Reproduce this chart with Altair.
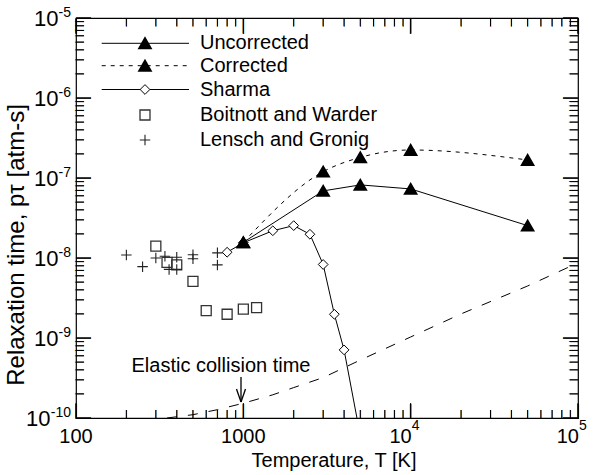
import altair as alt
import pandas as pd

W, H = 502, 400
FONT = "Liberation Sans"

# ---------------- data ----------------
unc_T = [1000, 3000, 5000, 10000, 50000]
unc_v = [1.57e-8, 6.9e-8, 8.2e-8, 7.3e-8, 2.54e-8]

cor_T = [1000, 3000, 5000, 10000, 50000]
cor_v = [1.57e-8, 1.2e-7, 1.81e-7, 2.24e-7, 1.68e-7]

sharma_T = [800, 1000, 1500, 2000, 2500, 3000, 3500, 4000, 5000]
sharma_v = [1.18e-8, 1.55e-8, 2.19e-8, 2.54e-8, 1.98e-8, 8.3e-9, 1.98e-9, 7.1e-10, 6e-11]

bw_T = [300, 350, 400, 500, 600, 800, 1000, 1200]
bw_v = [1.41e-8, 8.8e-9, 8.2e-9, 5.1e-9, 2.2e-9, 1.98e-9, 2.3e-9, 2.4e-9]

lg_T = [200, 250, 300, 340, 360, 400, 400, 500, 500, 700, 700]
lg_v = [1.09e-8, 7.8e-9, 1.0e-8, 1.05e-8, 7.2e-9, 1.02e-8, 7.2e-9, 1.1e-8, 9.8e-9, 1.16e-8, 8.2e-9]

el_T = [350, 500, 700, 1000, 1500, 2000, 3000, 5000, 10000, 20000, 50000, 100000]
el_v = [1.0e-10, 1.1e-10, 1.27e-10, 1.53e-10, 1.95e-10, 2.4e-10, 3.2e-10, 5.3e-10,
        1.03e-9, 2.0e-9, 4.47e-9, 8.7e-9]

legend_labels = ["Uncorrected", "Corrected", "Sharma", "Boitnott and Warder", "Lensch and Gronig"]
annotation = "Elastic collision time"
x_title = "Temperature, T [K]"
y_title = "Relaxation time, p\u03c4 [atm-s]"

x_domain = [100, 100000]
y_domain = [1e-10, 1e-5]
x_major = [100, 1000, 10000, 100000]
x_minor = [m * 10 ** e for e in (2, 3, 4) for m in range(2, 10)]
y_major = [1e-10, 1e-9, 1e-8, 1e-7, 1e-6, 1e-5]
y_minor = [m * 10.0 ** e for e in (-10, -9, -8, -7, -6) for m in range(2, 10)]

x_plain_T = [100, 1000]
x_plain_lab = ["100", "1000"]
x_pow_T = [10000, 100000]
x_pow_exp = ["4", "5"]
y_pow_v = [1e-10, 1e-9, 1e-8, 1e-7, 1e-6, 1e-5]
y_pow_exp = ["-10", "-9", "-8", "-7", "-6", "-5"]

# ---------------- helpers ----------------
xs = alt.Scale(type="log", domain=x_domain, nice=False)
ys = alt.Scale(type="log", domain=y_domain, nice=False)


def X(f="T"):
    return alt.X(f"{f}:Q", scale=xs, axis=None)


def Y(f="v"):
    return alt.Y(f"{f}:Q", scale=ys, axis=None)


def df(T, v):
    return pd.DataFrame({"T": T, "v": v})


PLUS = "M-1,0L1,0M0,-1L0,1"
marker_style = {
    "tri": dict(shape="triangle-up", filled=True, fill="black", stroke="black", size=130, opacity=1),
    "dia": dict(shape="diamond", filled=True, fill="white", stroke="black", strokeWidth=1, size=95, opacity=1),
    "sq": dict(shape="square", filled=False, stroke="#333333", strokeWidth=1.3, size=100, opacity=1),
    "plus": dict(shape=PLUS, filled=False, stroke="#222222", strokeWidth=1.1, size=110, opacity=1),
}
DOT = [4, 5]
DASH = [10, 11]

layers = []

# ---------------- inward ticks on all four sides: short line segments through the log scales ----------------
px_per_dec_x = W / 3.0
px_per_dec_y = H / 5.0
rows = []
k = 0
for vals, ln in ((x_major, 15), (x_minor, 8)):
    fy = 10 ** (ln / px_per_dec_y)
    for t in vals:
        rows += [(k, t, y_domain[0]), (k, t, y_domain[0] * fy)]
        k += 1
        rows += [(k, t, y_domain[1]), (k, t, y_domain[1] / fy)]
        k += 1
for vals, ln in ((y_major, 15), (y_minor, 8)):
    fx = 10 ** (ln / px_per_dec_x)
    for v in vals:
        rows += [(k, x_domain[0], v), (k, x_domain[0] * fx, v)]
        k += 1
        rows += [(k, x_domain[1], v), (k, x_domain[1] / fx, v)]
        k += 1
ticks = pd.DataFrame(rows, columns=["id", "T", "v"])
layers.append(alt.Chart(ticks).mark_line(color="black", strokeWidth=1)
              .encode(x=X(), y=Y(), detail="id:N"))

# same ticks again as bar glyphs (text marks), centred half a tick length inside the frame
for vals, ln, fs in ((x_major, 15, 16), (x_minor, 8, 8.5)):
    d = pd.DataFrame({"T": vals, "g": ["|"] * len(vals)})
    for ypix in (H - ln / 2.0, ln / 2.0):
        layers.append(alt.Chart(d).mark_text(font=FONT, fontSize=fs, align="center", baseline="middle",
                                             color="black")
                      .encode(x=X(), y=alt.value(ypix), text="g:N"))
for vals, ln, fs in ((y_major, 15, 16), (y_minor, 8, 8.5)):
    d = pd.DataFrame({"v": vals, "g": ["|"] * len(vals)})
    for xpix in (ln / 2.0, W - ln / 2.0):
        layers.append(alt.Chart(d).mark_text(font=FONT, fontSize=fs, align="center", baseline="middle",
                                             angle=90, color="black")
                      .encode(y=Y(), x=alt.value(xpix), text="g:N"))

# elastic collision time
layers.append(alt.Chart(df(el_T, el_v)).mark_line(color="black", strokeWidth=1, strokeDash=DASH, clip=True)
              .encode(x=X(), y=Y()))
# Sharma
d_sh = df(sharma_T, sharma_v)
layers.append(alt.Chart(d_sh).mark_line(color="black", strokeWidth=1, clip=True).encode(x=X(), y=Y()))
layers.append(alt.Chart(d_sh).mark_point(clip=True, **marker_style["dia"]).encode(x=X(), y=Y()))
# Uncorrected / Corrected
d_unc = df(unc_T, unc_v)
d_cor = df(cor_T, cor_v)
layers.append(alt.Chart(d_unc).mark_line(color="black", strokeWidth=1, clip=True).encode(x=X(), y=Y()))
layers.append(alt.Chart(d_cor).mark_line(color="black", strokeWidth=1, strokeDash=DOT,
                                         interpolate="monotone", clip=True).encode(x=X(), y=Y()))
layers.append(alt.Chart(d_unc).mark_point(clip=True, **marker_style["tri"]).encode(x=X(), y=Y()))
layers.append(alt.Chart(d_cor).mark_point(clip=True, **marker_style["tri"]).encode(x=X(), y=Y()))
# Boitnott and Warder, Lensch and Gronig
layers.append(alt.Chart(df(bw_T, bw_v)).mark_point(clip=True, **marker_style["sq"]).encode(x=X(), y=Y()))
layers.append(alt.Chart(df(lg_T, lg_v)).mark_point(clip=True, **marker_style["plus"]).encode(x=X(), y=Y()))

# ---------------- tick labels ----------------
layers.append(alt.Chart(pd.DataFrame({"T": x_plain_T, "lab": x_plain_lab}))
              .mark_text(font=FONT, fontSize=20, align="center", baseline="alphabetic", color="black")
              .encode(x=X(), y=alt.value(H + 25), text="lab:N"))
d_xp = pd.DataFrame({"T": x_pow_T, "e": x_pow_exp, "b": ["10"] * len(x_pow_T)})
layers.append(alt.Chart(d_xp).mark_text(font=FONT, fontSize=20, align="right", baseline="alphabetic",
                                        color="black", dx=1)
              .encode(x=X(), y=alt.value(H + 25), text="b:N"))
layers.append(alt.Chart(d_xp).mark_text(font=FONT, fontSize=14, align="left", baseline="alphabetic",
                                        color="black", dx=1)
              .encode(x=X(), y=alt.value(H + 12), text="e:N"))

d_yp = pd.DataFrame({"v": y_pow_v, "e": y_pow_exp, "b": ["10"] * len(y_pow_v)})
d_yp["w"] = d_yp["e"].str.len()
for n, off in ((2, 12.5), (3, 20.5)):
    sub = d_yp[d_yp["w"] == n]
    layers.append(alt.Chart(sub).mark_text(font=FONT, fontSize=14, align="right", baseline="alphabetic",
                                           color="black", dy=-1)
                  .encode(x=alt.value(-5), y=Y(), text="e:N"))
    layers.append(alt.Chart(sub).mark_text(font=FONT, fontSize=22, align="right", baseline="alphabetic",
                                           color="black", dy=8)
                  .encode(x=alt.value(-5 - off), y=Y(), text="b:N"))

# ---------------- axis titles ----------------
layers.append(alt.Chart(pd.DataFrame({"t": [x_title]}))
              .mark_text(font=FONT, fontSize=20, align="center", baseline="alphabetic", color="black")
              .encode(x=alt.value(258), y=alt.value(449), text="t:N"))
layers.append(alt.Chart(pd.DataFrame({"t": [y_title]}))
              .mark_text(font=FONT, fontSize=24, align="center", baseline="alphabetic", angle=270,
                         color="black")
              .encode(x=alt.value(-52.5), y=alt.value(227), text="t:N"))

# ---------------- annotation ----------------
one = pd.DataFrame({"a": [annotation]})
layers.append(alt.Chart(one).mark_text(font=FONT, fontSize=20, align="center", baseline="alphabetic",
                                       color="black")
              .encode(x=alt.value(145), y=alt.value(353.5), text="a:N"))
for (x1, y1, x2, y2) in ((165, 359, 165, 384), (160.5, 371, 165, 384), (169.5, 371, 165, 384)):
    layers.append(alt.Chart(one).mark_rule(color="black", strokeWidth=1.3)
                  .encode(x=alt.value(x1), y=alt.value(y1), x2=alt.value(x2), y2=alt.value(y2)))

# ---------------- legend ----------------
row_y = [25.3, 47.7, 71.5, 97, 122]
line_x0, line_x1, mark_x, text_x = 25.7, 113, 69, 124
leg_spec = [("solid", "tri"), ("dot", "tri"), ("solid", "dia"), (None, "sq"), (None, "plus")]
for lab, yy, (ls, mk) in zip(legend_labels, row_y, leg_spec):
    d = pd.DataFrame({"lab": [lab]})
    if ls is not None:
        kw = dict(color="black", strokeWidth=1)
        if ls == "dot":
            kw["strokeDash"] = DOT
        layers.append(alt.Chart(d).mark_rule(**kw)
                      .encode(x=alt.value(line_x0), x2=alt.value(line_x1), y=alt.value(yy)))
    layers.append(alt.Chart(d).mark_point(**marker_style[mk])
                  .encode(x=alt.value(mark_x), y=alt.value(yy)))
    layers.append(alt.Chart(d).mark_text(font=FONT, fontSize=20, align="left", baseline="alphabetic",
                                         color="black")
                  .encode(x=alt.value(text_x), y=alt.value(yy + 6), text="lab:N"))

chart = (
    alt.layer(*layers)
    .properties(width=W, height=H, autosize=alt.AutoSizeParams(type="none"),
                padding={"left": 76, "top": 18, "right": 15, "bottom": 57}, background="white")
    .configure_view(stroke="black", strokeWidth=1.2)
)

chart.save("out.html", embed_options={"renderer": "svg", "actions": False})
